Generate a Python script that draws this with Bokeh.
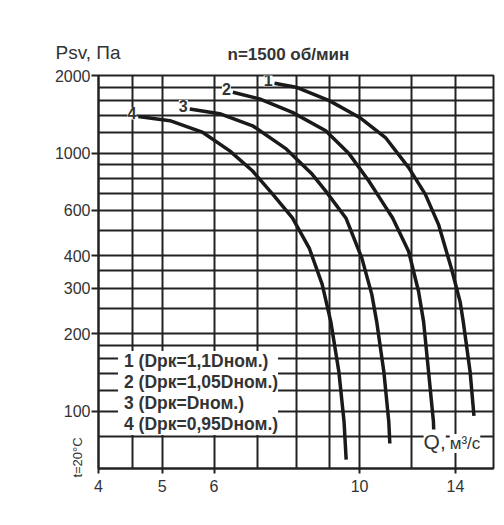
from math import pi
from bokeh.plotting import figure
from bokeh.models import FixedTicker, NumeralTickFormatter, Label, Legend, LegendItem, ColumnDataSource
from bokeh.core.properties import value
from bokeh.embed import file_html
from bokeh.resources import INLINE

# ---------------- data ----------------
title_text = "n=1500 об/мин"
y_label = "Psv, Па"
x_label_q = "Q,"
x_label_unit = "м³/с"
temp_note = "t=20°C"

curve_names = ["1", "2", "3", "4"]
legend_labels = ["1 (Dрк=1,1Dном.)", "2 (Dрк=1,05Dном.)", "3 (Dрк=Dном.)", "4 (Dрк=0,95Dном.)"]

q1 = [7.42, 8.00, 8.99, 10.0, 10.95, 11.88, 12.59, 13.19, 13.80, 14.23, 14.39, 14.74, 14.94]
p1 = [1866, 1801, 1598, 1376, 1150, 879, 694, 530, 358, 266, 222, 142, 96]

q2 = [6.41, 7.04, 7.90, 8.88, 9.64, 10.33, 10.81, 11.23, 11.88, 12.30, 12.52, 12.74, 12.96, 12.97]
p2 = [1722, 1623, 1439, 1221, 994, 780, 652, 561, 416, 291, 222, 142, 91, 85]

q3 = [5.51, 6.12, 6.87, 7.73, 8.47, 8.88, 9.53, 10.08, 10.44, 10.62, 10.89, 11.08, 11.12]
p3 = [1484, 1422, 1277, 1039, 828, 713, 561, 392, 283, 222, 142, 91, 75]

q4 = [4.60, 5.14, 5.77, 6.34, 6.87, 7.37, 7.90, 8.38, 8.77, 9.04, 9.30, 9.47, 9.54]
p4 = [1388, 1336, 1203, 1021, 853, 694, 561, 429, 310, 222, 142, 91, 65]

x_ticks = [4, 5, 6, 10, 14]
x_grid = [4, 4.5, 5, 6, 7, 8, 9, 10, 12, 14, 16]
y_ticks = [100, 200, 300, 400, 600, 1000, 2000]
y_grid = [60, 80, 100, 120, 140, 160, 180, 200, 250, 300, 350, 400, 500, 600,
          700, 800, 900, 1000, 1200, 1400, 1600, 1800, 2000]

# ---------------- styling ----------------
FONT = "Liberation Sans"
INK = "#333333"
GRID = "#222222"
CURVE = "#1a1a1a"

p = figure(frame_width=395, frame_height=393,
           x_axis_type="log", y_axis_type="log",
           x_range=(4, 16), y_range=(60, 2000),
           output_backend="svg", toolbar_location=None,
           min_border_left=98, min_border_right=10, min_border_top=75, min_border_bottom=49,
           background_fill_color="white", border_fill_color="white")

p.title.text = title_text
p.title.text_font = FONT
p.title.text_font_size = "17px"
p.title.text_font_style = "bold"
p.title.text_color = INK
p.title.align = "left"
p.title.offset = 129
p.title.standoff = -18

for ax, ticks in ((p.xaxis[0], x_ticks), (p.yaxis[0], y_ticks)):
    ax.ticker = FixedTicker(ticks=ticks)
    ax.formatter = NumeralTickFormatter(format="0")
    ax.minor_tick_line_color = None
    ax.major_tick_in = 0
    ax.major_tick_line_color = GRID
    ax.major_tick_line_width = 2
    ax.axis_line_color = GRID
    ax.axis_line_width = 2
    ax.major_label_text_font = FONT
    ax.major_label_text_font_size = "16px"
    ax.major_label_text_color = INK

p.xaxis.major_tick_out = 5
p.xaxis.major_label_standoff = 6
p.yaxis.major_tick_out = 7
p.yaxis.major_label_standoff = 1

p.xgrid.ticker = FixedTicker(ticks=x_grid)
p.ygrid.ticker = FixedTicker(ticks=y_grid)
for g in (p.xgrid[0], p.ygrid[0]):
    g.grid_line_color = GRID
    g.grid_line_width = 2
    g.grid_line_alpha = 1.0

p.outline_line_color = GRID
p.outline_line_width = 2
p.outline_line_alpha = 1.0

renderers = []
for q, pv in ((q1, p1), (q2, p2), (q3, p3), (q4, p4)):
    src = ColumnDataSource(data=dict(q=q, p=pv))
    r = p.line("q", "p", source=src, line_width=3.5, line_color=CURVE, line_join="round")
    renderers.append(r)

# curve numbers at the start of each curve
lab_src = ColumnDataSource(data=dict(
    q=[q1[0], q2[0], q3[0], q4[0]],
    p=[p1[0], p2[0], p3[0], p4[0]],
    t=curve_names))
p.text("q", "p", text="t", source=lab_src, text_align="right", text_baseline="middle",
       x_offset=-2, y_offset=-3, text_font=value(FONT), text_font_size="16px",
       text_font_style="bold", text_color=INK, background_fill_color="white")

legend = Legend(items=[LegendItem(label=lab, renderers=[r]) for lab, r in zip(legend_labels, renderers)],
                location=(20, 33), orientation="vertical",
                background_fill_color="white", background_fill_alpha=1.0,
                border_line_alpha=0, padding=0, spacing=0, margin=0,
                glyph_width=0, glyph_height=20, label_height=20, label_standoff=6,
                label_text_font=FONT, label_text_font_size="17.5px",
                label_text_font_style="bold", label_text_color=INK)
p.add_layout(legend)

# texts outside the frame live in the side panels (not clipped to the frame)
p.add_layout(Label(x=3.44, y=2459, text=y_label,
                   text_font=FONT, text_font_size="19px", text_color=INK,
                   text_align="left", text_baseline="middle"), "above")
p.add_layout(Label(x=3.72, y=66.2, text=temp_note,
                   text_font=FONT, text_font_size="13px", text_color=INK,
                   text_align="center", text_baseline="middle", angle=pi / 2), "left")

p.add_layout(Label(x=12.52, y=76.4, text=x_label_q, text_font=FONT, text_font_size="21px",
                   text_color=INK, text_align="left", text_baseline="middle",
                   background_fill_color="white"))
p.add_layout(Label(x=13.72, y=75.0, text=x_label_unit, text_font=FONT, text_font_size="17px",
                   text_color=INK, text_align="left", text_baseline="middle",
                   background_fill_color="white"))

open("out.html", "w").write(file_html(p, INLINE))
